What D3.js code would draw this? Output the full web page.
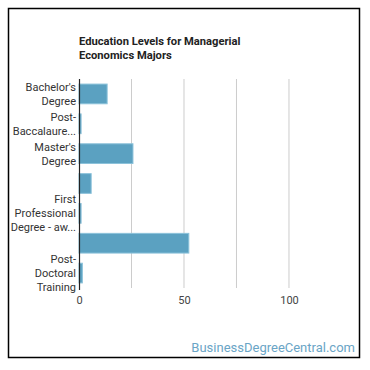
<!DOCTYPE html>
<html>
<head>
<meta charset="utf-8">
<script src="https://cdn.jsdelivr.net/npm/d3@7"></script>
<style>
  body { margin: 0; background: #fff; }
  svg { display: block; font-family: Roboto, "Noto Sans", sans-serif; }
</style>
</head>
<body>
<div id="chart"></div>
<script>
// data
var categories = ["Bachelor's Degree", "Post-Baccalaureate", "Master's Degree",
  "Post-Master's Certificate", "First Professional Degree - awarded", "Doctoral Degree",
  "Post-Doctoral Training"];
var values = [13.4, 1, 25.7, 5.8, 1, 52.3, 1.6];
// wrapped tick labels as shown (two are left blank in the original)
var tickLabels = [["Bachelor's", "Degree"], ["Post-", "Baccalaure..."], ["Master's", "Degree"],
  [], ["First", "Professional", "Degree - aw..."], [], ["Post-", "Doctoral", "Training"]];
var xTicks = [0, 50, 100];
var xGrid = [25, 50, 75, 100];

var W = 370, H = 370;
var margin = { top: 79, right: 30, bottom: 82, left: 79 };
var width = W - margin.left - margin.right,   // 261
    height = H - margin.top - margin.bottom;

var svg = d3.select("#chart").append("svg")
  .attr("width", W).attr("height", H);

// frame
svg.append("rect")
  .attr("x", 8.5).attr("y", 8.5)
  .attr("width", 351).attr("height", 349)
  .attr("fill", "none").attr("stroke", "#000").attr("stroke-width", 1.5);

// title
svg.append("text")
  .attr("x", 79).attr("y", 45)
  .attr("font-size", "11.2px").attr("font-weight", "bold").attr("fill", "#222")
  .selectAll("tspan")
  .data(["Education Levels for Managerial", "Economics Majors"])
  .enter().append("tspan")
  .attr("x", 79).attr("dy", function (d, i) { return i ? 14 : 0; })
  .text(function (d) { return d; });

var g = svg.append("g")
  .attr("transform", "translate(" + margin.left + "," + margin.top + ")");

var x = d3.scaleLinear().domain([0, 124.3]).range([0, width]);
var y = d3.scaleBand().domain(categories).range([0, height]).paddingInner(0.34).paddingOuter(0.17);

// grid
g.selectAll(".grid").data(xGrid).enter().append("line")
  .attr("x1", function (d) { return x(d); }).attr("x2", function (d) { return x(d); })
  .attr("y1", 0).attr("y2", height)
  .attr("stroke", "#ccc").attr("stroke-width", 1);

// bars
g.selectAll(".bar").data(values).enter().append("rect")
  .attr("x", 0)
  .attr("y", function (d, i) { return y(categories[i]); })
  .attr("width", function (d) { return x(d); })
  .attr("height", y.bandwidth())
  .attr("fill", "#5ba1c1")
  .attr("stroke", "#8cc2da").attr("stroke-width", 1);

// y axis line
g.append("line")
  .attr("x1", 0.5).attr("x2", 0.5).attr("y1", 0).attr("y2", height + 2)
  .attr("stroke", "#222").attr("stroke-width", 1.2);

// y labels
var yl = g.selectAll(".ylab").data(categories).enter().append("text")
  .attr("text-anchor", "end").attr("font-size", "11px").attr("fill", "#333")
  .attr("transform", function (d) { return "translate(-3," + (y(d) + y.bandwidth() / 2) + ")"; });
yl.each(function (d, i) {
  var lines = tickLabels[i];
  var n = lines.length;
  d3.select(this).selectAll("tspan").data(lines).enter().append("tspan")
    .attr("x", 0)
    .attr("y", function (t, j) { return (j - (n - 1) / 2) * 14 + 4; })
    .text(function (t) { return t; });
});

// x axis labels
var xAxis = g.append("g")
  .attr("transform", "translate(0," + height + ")")
  .call(d3.axisBottom(x).tickValues(xTicks).tickSize(0).tickPadding(8).tickFormat(d3.format("d")));
xAxis.select(".domain").remove();
xAxis.selectAll("text").attr("font-size", "11px").attr("fill", "#444")
  .attr("font-family", "Roboto, sans-serif");

// watermark
svg.append("text")
  .attr("x", 355).attr("y", 352)
  .attr("text-anchor", "end").attr("font-size", "13px").attr("fill", "#6aa5c6")
  .text("BusinessDegreeCentral.com");
</script>
</body>
</html>
